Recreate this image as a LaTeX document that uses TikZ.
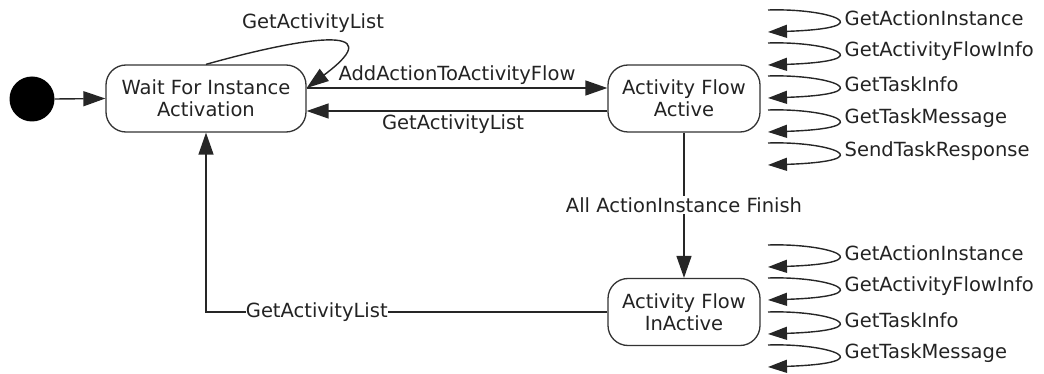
\documentclass[tikz,border=0pt]{standalone}
\usepackage{fontspec}
\setmainfont{DejaVu Sans}
\usetikzlibrary{arrows.meta}
\definecolor{txt}{RGB}{35,35,35}
\begin{document}
\begin{tikzpicture}[x=1pt,y=-1pt,
  state/.style={draw=black!80, rounded corners=20pt, line width=1.3pt, align=center,
    minimum height=67pt, inner sep=0pt, text=txt, font=\fontsize{19.5}{22}\selectfont},
  lbl/.style={font=\fontsize{19.5}{22}\selectfont, inner sep=1.5pt, text=txt},
  arr/.style={line width=1.4pt, draw=black!85, -{Triangle[length=22pt,width=15pt]}},
  loopy/.style={line width=1.4pt, draw=black!85, -{Triangle[length=19pt,width=13pt]}},
]
\useasboundingbox (0,0) rectangle (1044,374);

\node[circle, fill=black, minimum size=45pt, inner sep=0pt] (init) at (32,99) {};
\node[state, minimum width=200pt] (wait) at (206,98.5) {Wait For Instance\\Activation};
\node[state, minimum width=152pt] (active) at (684,98.5) {Activity Flow\\Active};
\node[state, minimum width=152pt] (inactive) at (684,312) {Activity Flow\\InActive};

\draw[arr] (init.east) -- (wait.west);
\draw[arr] ([yshift=10.5pt]wait.east) -- ([yshift=10.5pt]active.west)
  node[midway, above=1pt, lbl] {AddActionToActivityFlow};
\draw[arr] ([yshift=-12.5pt]active.west) -- ([yshift=-12.5pt]wait.east)
  node[midway, below=1pt, lbl, xshift=-4pt] {GetActivityList};
\draw[arr] (active.south) -- (inactive.north)
  node[midway, fill=white, lbl] {All ActionInstance Finish};
\draw[arr] (inactive.west) -| (wait.south)
  node[pos=0.362, fill=white, lbl, inner sep=0pt] {GetActivityList};

\draw[arr] (wait.north) .. controls (300,38) and (395,22) .. ([yshift=10.5pt]wait.east);
\node[lbl] (selflbl) at (313,23) {GetActivityList};

\foreach \L/\t [count=\i] in {18/GetActionInstance, 51/GetActivityFlowInfo, 84/GetTaskInfo, 118/GetTaskMessage, 151/SendTaskResponse}{
  \coordinate (a\i) at (768,\L-8);
  \coordinate (b\i) at (768,\L+14);
  \draw[loopy] (a\i) .. controls (830,\L-10) and (885,\L+10) .. (b\i);
  \node[lbl, anchor=west] (la\i) at (843,\L) {\t};
}
\foreach \L/\t [count=\i] in {253/GetActionInstance, 286/GetActivityFlowInfo, 320/GetTaskInfo, 353/GetTaskMessage}{
  \coordinate (c\i) at (768,\L-8);
  \coordinate (d\i) at (768,\L+14);
  \draw[loopy] (c\i) .. controls (830,\L-10) and (885,\L+10) .. (d\i);
  \node[lbl, anchor=west] (lb\i) at (843,\L) {\t};
}
\end{tikzpicture}
\end{document}
